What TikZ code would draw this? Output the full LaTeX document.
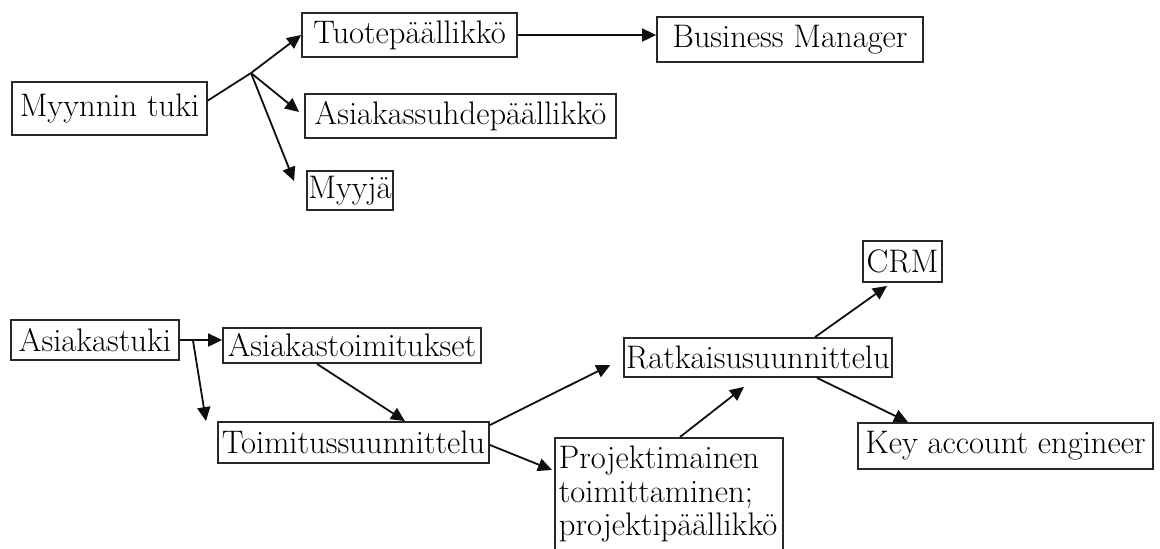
\documentclass[tikz,border=0pt]{standalone}
\usepackage{xcolor}
\usepackage{tikz}
\usetikzlibrary{arrows.meta, positioning, calc}
\definecolor{mydark}{RGB}{40,40,40}
\definecolor{myline}{RGB}{15,15,15}
\tikzset{
  orgbox/.style={rectangle, draw=mydark, fill=white, align=center,
    inner sep=2pt, font=\fontsize{16.3}{16.8}\selectfont, line width=0.9pt},
  arrow/.style={-{Triangle[length=7pt, width=6.5pt]}, line width=0.9pt, color=myline},
  line/.style={line width=0.9pt, color=myline}
}
\begin{document}
\begin{tikzpicture}[x=0.5pt, y=-0.5pt]
  \useasboundingbox (0,0) rectangle (1160,548);
  \clip (0,0) rectangle (1160,548);
  % myynti
  \node[orgbox, minimum width=97.5pt, minimum height=26.5pt] (myynti) at (109.5,108.5) {Myynnin tuki};
  \node[orgbox, minimum width=107.5pt, minimum height=22pt] (tuote) at (409.5,35) {Tuotepäällikkö};
  \node[orgbox, minimum width=133pt, minimum height=22.5pt] (bm) at (790,39.5) {Business Manager};
  \node[orgbox, minimum width=155.5pt, minimum height=22pt] (suhde) at (460.5,116) {Asiakassuhdepäällikkö};
  \node[orgbox, minimum width=43pt, minimum height=19.5pt, inner sep=0pt] (myyja) at (350,190.5) {Myyjä};
  \coordinate (jn) at (251,73);
  \draw[line] ([yshift=4pt]myynti.east) -- (jn);
  \draw[arrow] (jn) -- (tuote.west);
  \draw[arrow] (jn) -- ([xshift=-2.5pt, yshift=2pt]suhde.west);
  \draw[arrow] (jn) -- ([xshift=-6pt, yshift=-5.5pt]myyja.north west);
  \draw[arrow] (tuote.east) -- (tuote.east -| bm.west);
  % asiakastuki
  \node[orgbox, minimum width=84pt, minimum height=20pt] (atuki) at (95,340) {Asiakastuki};
  \node[orgbox, minimum width=129pt, minimum height=17.5pt, inner sep=0pt] (atoim) at (352,345.5) {Asiakastoimitukset};
  \node[orgbox, minimum width=135.5pt, minimum height=20.5pt] (tsuun) at (353.5,442.5) {Toimitussuunnittelu};
  \node[orgbox, minimum width=132pt, minimum height=19.5pt, inner xsep=1pt] (ratk) at (758,357.5) {Ratkaisusuunnittelu};
  \node[orgbox, minimum width=39.5pt, minimum height=20.5pt, inner sep=0pt] (crm) at (902.5,261.5) {CRM};
  \node[orgbox, minimum width=147.5pt, minimum height=23pt] (kae) at (1005.5,446) {Key account engineer};
  \node[orgbox, anchor=north west, align=left, text width=110pt, inner xsep=2pt,
    inner ysep=4pt, text depth=60pt] (proj) at (554,437) {Projektimainen\\toimittaminen;\\projektipäällikkö};
  \coordinate (ak) at ([xshift=6.5pt]atuki.east);
  \draw[arrow] (atuki.east) -- (atuki.east -| atoim.west);
  \draw[arrow] (ak) -- ([xshift=-5.5pt]tsuun.north west);
  \draw[arrow] ([xshift=-17.5pt]atoim.south) -- ([xshift=25.75pt]tsuun.north);
  \draw[arrow] ([yshift=8.75pt]tsuun.east) -- ([xshift=-6.5pt, yshift=-3.75pt]ratk.west);
  \draw[arrow] ([yshift=-1.25pt]tsuun.east) -- ([xshift=-1pt, yshift=-16.5pt]proj.north west);
  \draw[arrow] ([xshift=63pt]proj.north west) -- ([xshift=-7pt, yshift=-4.5pt]ratk.south);
  \draw[arrow] ([xshift=28.5pt]ratk.north) -- ([xshift=-7.75pt, yshift=-1.5pt]crm.south);
  \draw[arrow] ([xshift=29.5pt]ratk.south) -- ([xshift=-48.75pt]kae.north);
\end{tikzpicture}
\end{document}
